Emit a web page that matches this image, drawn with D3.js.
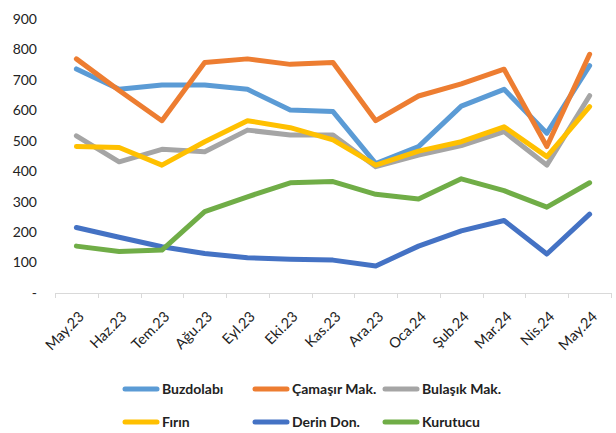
<!DOCTYPE html>
<html><head><meta charset="utf-8">
<script src="https://cdn.jsdelivr.net/npm/d3@7"></script>
<style>body{margin:0;background:#fff}svg{display:block}</style>
</head><body>
<svg id="c" width="616" height="433"></svg>
<script>
const categories = ["May.23","Haz.23","Tem.23","Ağu.23","Eyl.23","Eki.23","Kas.23","Ara.23","Oca.24","Şub.24","Mar.24","Nis.24","May.24"];
const yTicks = [0,100,200,300,400,500,600,700,800,900];
const buzdolabi = [736,669,683,683,669,601,596,425,481,614,669,525,747];
const camasir   = [769,665,566,757,769,751,757,566,647,687,735,481,784];
const bulasik   = [516,431,472,464,535,519,519,415,453,484,530,420,648];
const firin     = [481,478,420,497,566,543,503,420,466,497,546,448,612];
const derinDon  = [215,183,152,130,116,111,108,89,154,204,238,128,259];
const kurutucu  = [154,136,141,267,316,362,366,324,309,375,336,282,362];
const seriesNames = ["Buzdolabı","Çamaşır Mak.","Bulaşık Mak.","Fırın","Derin Don.","Kurutucu"];
const seriesData = [buzdolabi,camasir,bulasik,firin,derinDon,kurutucu];
const colors = ["#5B9BD5","#ED7D31","#A5A5A5","#FFC000","#4472C4","#70AD47"];

const svg = d3.select("#c");
const font = "Lato, 'Open Sans', sans-serif";
const x = d3.scaleBand().domain(categories).range([55, 611]).padding(0);
const y = d3.scaleLinear().domain([0, 900]).range([293, 19]);
const cx = d => x(d) + x.bandwidth()/2;

// y labels
svg.append("g").selectAll("text").data(yTicks).join("text")
  .attr("x", 37).attr("y", d => y(d)).attr("dy", "0.35em")
  .attr("text-anchor", "end").attr("font-family", font).attr("font-size", 14).attr("fill", "#222")
  .text(d => d === 0 ? "-" : d);

// x axis line & ticks
const xa = svg.append("g");
xa.append("line").attr("x1", x.range()[0]).attr("x2", x.range()[1]).attr("y1", y(0)+0.5).attr("y2", y(0)+0.5)
  .attr("stroke", "#d9d9d9").attr("stroke-width", 1);
const bounds = categories.map(c => x(c)).concat([x.range()[1]]);
xa.selectAll("line.t").data(bounds).join("line").attr("class","t")
  .attr("x1", d => Math.round(d)+0.5).attr("x2", d => Math.round(d)+0.5)
  .attr("y1", y(0)).attr("y2", y(0)+5).attr("stroke", "#d9d9d9");
xa.selectAll("text").data(categories).join("text")
  .attr("transform", d => `translate(${cx(d)+5},${y(0)+21}) rotate(-45)`)
  .attr("text-anchor", "end").attr("dy", "0.35em")
  .attr("font-family", font).attr("font-size", 14.5).attr("fill", "#222")
  .text(d => d);

// lines
const line = d3.line().x((d,i) => cx(categories[i])).y(d => y(d));
seriesData.forEach((s, k) => {
  svg.append("path").datum(s).attr("d", line).attr("fill", "none")
    .attr("stroke", colors[k]).attr("stroke-width", 5)
    .attr("stroke-linejoin", "round").attr("stroke-linecap", "round");
});

// legend
const legX = [123, 253, 383];
const legY = [389, 422];
const lg = svg.append("g");
seriesNames.forEach((n, k) => {
  const lx = legX[k % 3], ly = legY[Math.floor(k / 3)];
  lg.append("line").attr("x1", lx+2).attr("x2", lx+34).attr("y1", ly).attr("y2", ly)
    .attr("stroke", colors[k]).attr("stroke-width", 5).attr("stroke-linecap", "round");
  lg.append("text").attr("x", lx+39).attr("y", ly).attr("dy", "0.35em")
    .attr("font-family", font).attr("font-size", 14).attr("font-weight", "bold").attr("fill", "#222")
    .text(n);
});
</script>
</body></html>
